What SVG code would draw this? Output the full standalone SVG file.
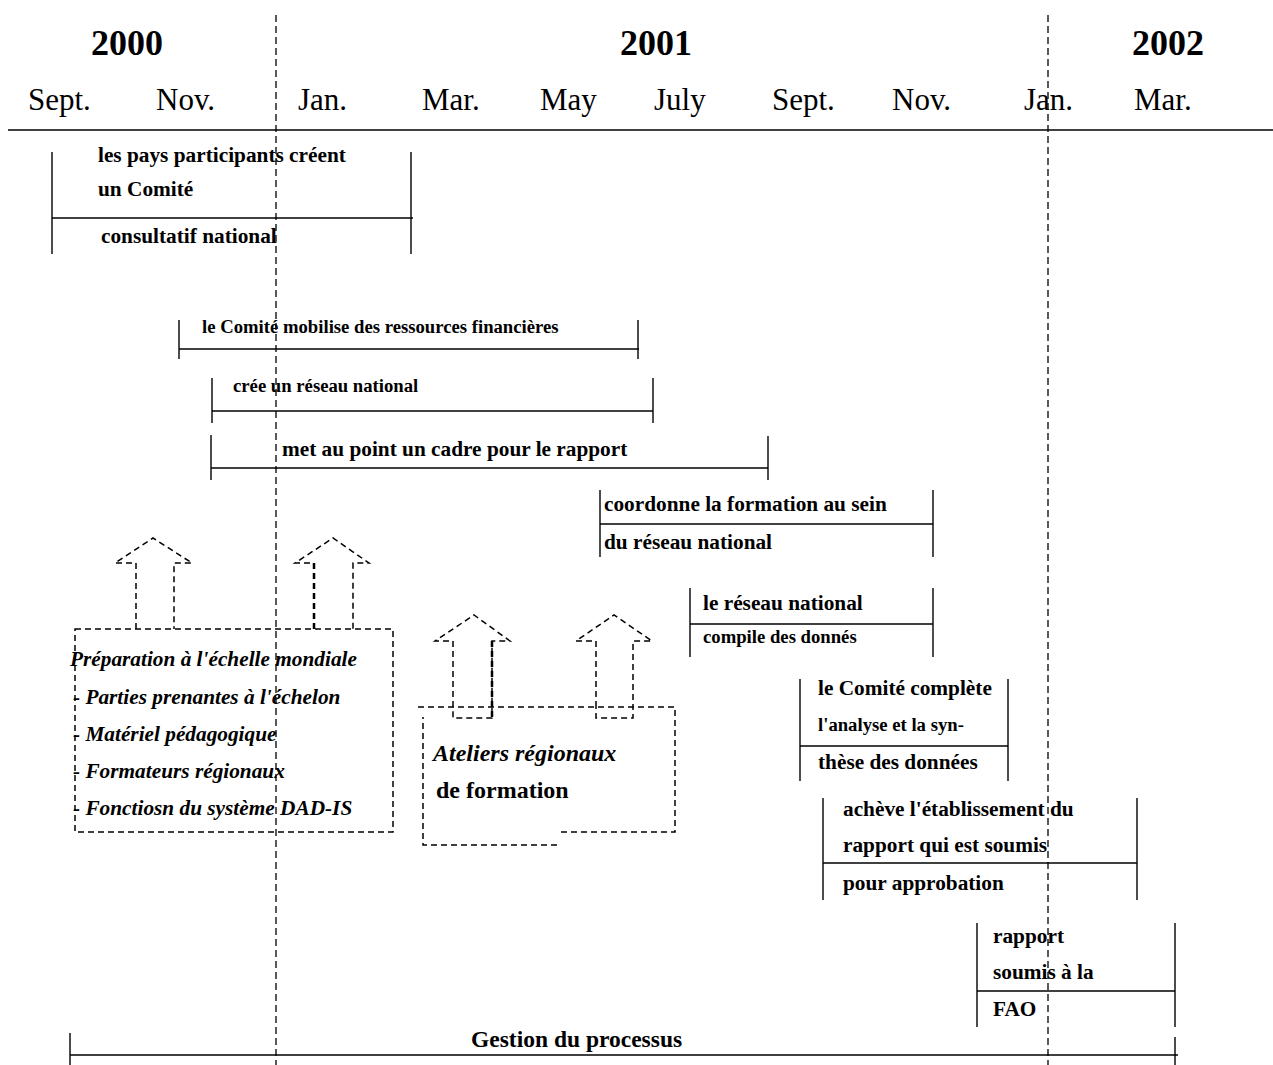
<svg xmlns="http://www.w3.org/2000/svg" width="1273" height="1065" viewBox="0 0 1273 1065">
<style>
text{font-family:"Liberation Serif","Times New Roman",serif;fill:#000}
.yr{font-size:36px;font-weight:bold}
.mo{font-size:31px}
.b{font-size:21.3px;font-weight:bold}
.s{font-size:18.7px;font-weight:bold}
.bi{font-size:21.3px;font-weight:bold;font-style:italic}
.big{font-size:24px;font-weight:bold}
.bar line{stroke:#000;stroke-width:1.4}
.dash{fill:none;stroke:#000;stroke-width:1.5;stroke-dasharray:6,4}
.grid{stroke:#000;stroke-width:1.3;stroke-dasharray:7,4}
</style>
<rect width="1273" height="1065" fill="#fff"/>
<g id="header">
<text class="yr" x="91" y="55">2000</text>
<text class="yr" x="620" y="55">2001</text>
<text class="yr" x="1132" y="55">2002</text>
<text class="mo" x="28" y="110">Sept.</text>
<text class="mo" x="156" y="110">Nov.</text>
<text class="mo" x="298" y="110">Jan.</text>
<text class="mo" x="422" y="110">Mar.</text>
<text class="mo" x="540" y="110">May</text>
<text class="mo" x="654" y="110">July</text>
<text class="mo" x="772" y="110">Sept.</text>
<text class="mo" x="892" y="110">Nov.</text>
<text class="mo" x="1024" y="110">Jan.</text>
<text class="mo" x="1134" y="110">Mar.</text>
<line x1="8" y1="130" x2="1273" y2="130" stroke="#000" stroke-width="1.5"/>
</g>
<g id="gridlines">
<line class="grid" x1="276" y1="15" x2="276" y2="1065"/>
<line class="grid" x1="1048" y1="15" x2="1048" y2="1065"/>
</g>
<g id="bar-comite" class="bar">
<line x1="52" y1="152" x2="52" y2="254"/><line x1="411" y1="152" x2="411" y2="254"/><line x1="52" y1="218" x2="413" y2="218"/>
<text class="b" x="98" y="162">les pays participants créent</text>
<text class="b" x="98" y="196">un Comité</text>
<text class="b" x="101" y="243">consultatif national</text>
</g>
<g id="bar-ressources" class="bar">
<line x1="179" y1="320" x2="179" y2="359"/><line x1="638" y1="320" x2="638" y2="359"/><line x1="179" y1="349" x2="639" y2="349"/>
<text class="s" x="202" y="333">le Comité mobilise des ressources financières</text>
</g>
<g id="bar-reseau" class="bar">
<line x1="212" y1="378" x2="212" y2="423"/><line x1="653" y1="378" x2="653" y2="423"/><line x1="212" y1="411" x2="653" y2="411"/>
<text class="s" x="233" y="392">crée un réseau national</text>
</g>
<g id="bar-cadre" class="bar">
<line x1="211" y1="435" x2="211" y2="480"/><line x1="768" y1="436" x2="768" y2="480"/><line x1="211" y1="468" x2="768" y2="468"/>
<text class="b" x="282" y="456">met au point un cadre pour le rapport</text>
</g>
<g id="bar-formation" class="bar">
<line x1="600" y1="490" x2="600" y2="557"/><line x1="933" y1="490" x2="933" y2="557"/><line x1="600" y1="524" x2="933" y2="524"/>
<text class="b" x="604" y="511">coordonne la formation au sein</text>
<text class="b" x="604" y="549">du réseau national</text>
</g>
<g id="bar-compile" class="bar">
<line x1="690" y1="588" x2="690" y2="657"/><line x1="933" y1="588" x2="933" y2="657"/><line x1="690" y1="624" x2="933" y2="624"/>
<text class="b" x="703" y="610">le réseau national</text>
<text class="s" x="703" y="643">compile des donnés</text>
</g>
<g id="bar-analyse" class="bar">
<line x1="800" y1="679" x2="800" y2="781"/><line x1="1008" y1="679" x2="1008" y2="781"/><line x1="800" y1="746" x2="1008" y2="746"/>
<text class="b" x="818" y="695">le Comité complète</text>
<text class="s" x="818" y="731">l'analyse et la syn-</text>
<text class="b" x="818" y="769">thèse des données</text>
</g>
<g id="bar-rapport" class="bar">
<line x1="823" y1="798" x2="823" y2="900"/><line x1="1137" y1="798" x2="1137" y2="900"/><line x1="823" y1="863" x2="1137" y2="863"/>
<text class="b" x="843" y="816">achève l'établissement du</text>
<text class="b" x="843" y="852">rapport qui est soumis</text>
<text class="b" x="843" y="890">pour approbation</text>
</g>
<g id="bar-fao" class="bar">
<line x1="977" y1="923" x2="977" y2="1027"/><line x1="1175" y1="923" x2="1175" y2="1027"/><line x1="977" y1="991" x2="1175" y2="991"/>
<text class="b" x="993" y="943">rapport</text>
<text class="b" x="993" y="979">soumis à la</text>
<text class="b" x="993" y="1016">FAO</text>
</g>
<g id="bar-gestion" class="bar">
<line x1="70" y1="1033" x2="70" y2="1065"/><line x1="1175" y1="1037" x2="1175" y2="1065"/><line x1="70" y1="1055" x2="1178" y2="1055"/>
<text x="471" y="1047" style="font-size:23.5px;font-weight:bold">Gestion du processus</text>
</g>
<g id="prep-mondiale">
<rect class="dash" x="75" y="629" width="318" height="203"/>
<path class="dash" d="M136,629 V563 H115 L153,538 L192,563 H174 V629"/>
<path class="dash" d="M314,629 V563 H295 L333,538 L369,563 H353 V629"/>
<line x1="314" y1="563" x2="314" y2="629" stroke="#000" stroke-width="2.5" stroke-dasharray="6,4"/>
<text class="bi" x="70" y="666">Préparation à l'échelle mondiale</text>
<text class="bi" x="73" y="704">- Parties prenantes à l'échelon</text>
<text class="bi" x="73" y="741">- Matériel pédagogique</text>
<text class="bi" x="73" y="778">- Formateurs régionaux</text>
<text class="bi" x="73" y="815">- Fonctiosn du système DAD-IS</text>
</g>
<g id="ateliers">
<path class="dash" d="M418,707 H675 V832 H559 M557,845 H423 V717"/>
<path class="dash" d="M453,707 V641 H435 L474,615 L510,641 H492 V718 H453 Z"/>
<line x1="492" y1="641" x2="492" y2="718" stroke="#000" stroke-width="2.5" stroke-dasharray="6,4"/>
<path class="dash" d="M596,707 V641 H576 L614,615 L652,641 H633 V718 H596 Z"/>
<text x="433" y="761" style="font-size:24px;font-weight:bold;font-style:italic">Ateliers régionaux</text>
<text class="big" x="436" y="798">de formation</text>
</g>
</svg>
